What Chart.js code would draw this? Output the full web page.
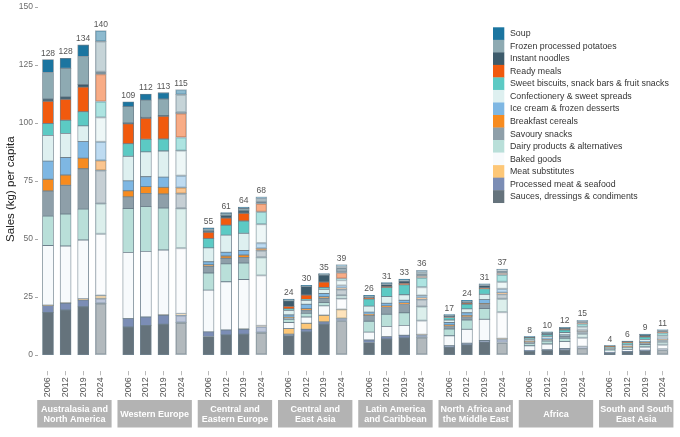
<!DOCTYPE html>
<html><head><meta charset="utf-8">
<script src="https://cdn.jsdelivr.net/npm/chart.js@4"></script>
<style>html,body{margin:0;padding:0;background:#fff}#wrap{width:680px;height:437px;position:relative}</style>
</head><body><div id="wrap"><canvas id="c"></canvas></div>
<script>
// ---------- DATA ----------
const regions = [["Australasia and","North America"],["Western Europe"],["Central and","Eastern Europe"],["Central and","East Asia"],["Latin America","and Caribbean"],["North Africa and","the Middle East"],["Africa"],["South and South","East Asia"]];
const years = ["2006","2012","2019","2024"];
const totals = [128,128,134,140, 109,112,113,115, 55,61,64,68, 24,30,35,39, 26,31,33,36, 17,24,31,37, 8,10,12,15, 4,6,9,11];

// stacked from bottom to top
const categories = ["Sauces, dressings & condiments","Processed meat & seafood","Meat substitutes","Baked goods","Dairy products & alternatives","Savoury snacks","Breakfast cereals","Ice cream & frozen desserts","Confectionery & sweet spreads","Sweet biscuits, snack bars & fruit snacks","Ready meals","Instant noodles","Frozen processed potatoes","Soup"];

const sauces    = [18.4,19.4,20.8,22.3, 12.1,12.8,13.3,14.0, 8.0,8.7,9.0,9.7, 8.3,10.0,13.3,14.7, 5.4,6.9,7.4,7.6, 3.4,4.4,5.6,5.4, 1.6,2.0,2.3,3.0, 1.0,1.3,1.8,2.2];
const procMeat  = [2.9,2.9,2.9,2.0, 3.6,3.6,3.9,3.1, 2.0,2.1,2.1,2.6, 0.7,1.1,1.0,1.1, 1.1,1.1,1.1,1.1, 0.6,0.7,0.7,1.4, 0.4,0.4,0.5,0.6, 0.2,0.2,0.3,0.4];
const meatSub   = [0.2,0.2,0.5,1.4, 0,0,0.1,0.7, 0,0,0.1,0.3, 2.4,2.6,2.9,3.9, 0,0,0,0.1, 0,0,0,0.3, 0,0,0,0, 0,0,0,0];
const baked     = [25.7,24.5,25.4,26.5, 28.5,28.3,28.0,28.3, 18.0,20.8,21.4,21.7, 2.6,2.7,4.0,4.6, 3.4,4.3,4.3,6.0, 4.3,6.0,9.1,11.4, 2.0,2.4,3.0,3.8, 0.6,0.9,1.4,1.8];
const dairy     = [12.7,13.8,13.3,13.1, 19.0,19.3,18.1,17.1, 7.4,7.7,7.1,7.8, 1.4,1.6,1.4,1.4, 4.7,5.3,5.4,6.1, 2.9,4.0,4.7,5.7, 1.0,1.2,1.4,1.7, 0.5,0.7,1.0,1.2];
const savoury   = [10.8,12.4,17.4,14.3, 5.0,5.7,6.0,6.4, 2.9,2.4,2.4,2.9, 0.7,1.4,1.9,2.6, 2.4,2.9,3.6,3.1, 1.4,1.4,1.7,2.1, 0.6,0.7,0.9,1.1, 0.3,0.5,0.8,1.0];
const breakfast = [5.1,4.4,4.6,4.3, 2.6,2.9,2.9,2.6, 0.6,1.0,1.0,1.0, 0.2,0.6,0.6,0.6, 0.6,0.7,0.7,0.7, 0.4,0.6,0.4,0.6, 0.2,0.2,0.2,0.3, 0.1,0.1,0.2,0.2];
const iceCream  = [7.8,7.6,7.1,8.0, 4.3,4.3,4.4,5.1, 1.3,1.6,2.0,2.3, 1.0,1.9,1.4,1.1, 0.9,1.1,1.1,1.0, 1.0,1.1,1.7,1.6, 0.3,0.4,0.4,0.5, 0.2,0.3,0.4,0.5];
const confect   = [11.1,10.3,6.8,10.6, 10.6,10.7,11.3,10.8, 6.0,7.4,7.4,8.1, 1.9,1.7,1.9,2.3, 2.6,2.9,2.4,3.6, 1.1,1.7,2.3,3.0, 0.6,0.8,1.0,1.2, 0.3,0.5,0.8,1.0];
const sweet     = [5.1,5.7,6.1,6.8, 5.4,5.4,5.1,5.7, 4.0,4.3,5.3,5.3, 0.7,0.4,0.7,0.6, 3.1,3.9,4.3,4.0, 1.1,2.0,2.4,3.1, 0.6,0.8,1.1,1.3, 0.4,0.8,1.1,1.3];
const ready     = [9.6,9.1,10.6,11.8, 8.6,9.1,9.8,10.4, 2.7,3.1,3.3,3.6, 1.1,1.9,2.4,2.6, 0.3,0.4,0.6,0.7, 0.2,0.3,0.4,0.7, 0.1,0.1,0.1,0.2, 0.05,0.1,0.1,0.2];
const noodles   = [1.0,1.0,1.1,1.0, 0.4,0.4,0.4,0.4, 0.6,1.0,1.1,1.0, 2.4,3.6,2.9,2.1, 0.6,0.9,0.9,0.9, 0.5,0.7,1.0,0.9, 0.4,0.6,0.7,0.8, 0.3,0.5,0.8,0.9];
const frozen    = [11.4,12.3,12.1,13.1, 7.0,7.4,7.1,7.7, 0.9,0.9,1.0,1.1, 0.4,0.3,0.4,0.7, 0.4,0.4,0.6,0.9, 0.3,0.4,0.4,0.6, 0.1,0.2,0.2,0.3, 0.05,0.05,0.1,0.1];
const soup      = [5.6,4.3,5.0,4.7, 2.1,2.6,2.7,2.1, 0.4,0.4,0.6,0.8, 0.3,0.3,0.3,0.7, 0.3,0.4,0.4,0.7, 0.2,0.3,0.3,0.3, 0.1,0.2,0.2,0.2, 0.05,0.1,0.2,0.2];

const seriesValues = [sauces,procMeat,meatSub,baked,dairy,savoury,breakfast,iceCream,confect,sweet,ready,noodles,frozen,soup];
const yTicks = [0,25,50,75,100,125,150];

// ---------- STYLE ----------
const colors = ["#65737c","#7b8db5","#fdc777","#f7fafc","#b9dfd9","#8e9fa9","#f78b1f","#7eb7e3","#def0f0","#5ccac4","#f15a0e","#3d5b6b","#8eaab2","#1b75a0"];
const GROUP_STEP = 4.56;
function lighten(hex, a){const n=parseInt(hex.slice(1),16);return `rgba(${n>>16&255},${n>>8&255},${n&255},${a})`;}

Chart.defaults.font.family = '"Liberation Sans", Arial, sans-serif';
const xPos = [];
regions.forEach((r,g)=>years.forEach((y,i)=>xPos.push(g*GROUP_STEP+i)));

const datasets = categories.map((name,k)=>({
  label: name,
  stack: 'all',
  data: seriesValues[k].map((v,i)=>({x:xPos[i], y:v})),
  backgroundColor: xPos.map((_,i)=> (i%4===3) ? lighten(colors[k],0.5) : colors[k]),
  borderColor: xPos.map((_,i)=> (i%4===3) ? 'rgba(110,128,140,0.6)' : '#6e808c'),
  borderWidth: 0.8,
  borderSkipped: false,
  barThickness: 11
}));

const extras = {
  id: 'extras',
  afterDatasetsDraw(chart){
    const ctx = chart.ctx, xs = chart.scales.x, ys = chart.scales.y;
    ctx.save();
    // totals
    ctx.font = '8.5px "Liberation Sans", Arial, sans-serif';
    ctx.fillStyle = '#555';
    ctx.textAlign = 'center'; ctx.textBaseline = 'alphabetic';
    xPos.forEach((xv,i)=>{
      let s = 0; seriesValues.forEach(a=>s+=a[i]);
      ctx.fillText(String(totals[i]), xs.getPixelForValue(xv), ys.getPixelForValue(s)-4);
    });
    // group boxes
    regions.forEach((lines,g)=>{
      const cx = xs.getPixelForValue(g*GROUP_STEP+1.5);
      ctx.fillStyle = '#b3b3b3';
      ctx.fillRect(cx-37.2, 400, 74.4, 27.5);
      ctx.fillStyle = '#ffffff';
      ctx.font = 'bold 9px "Liberation Sans", Arial, sans-serif';
      ctx.textBaseline = 'middle';
      const mid = 414.3;
      lines.forEach((t,j)=>{
        const y = lines.length===1 ? mid : mid + (j-0.5)*10;
        ctx.fillText(t, cx, y);
      });
    });
    // legend (top item = last stacked)
    const lx = 493, ly = 27.3, h = 12.53;
    ctx.textAlign = 'left';
    ctx.font = '8.8px "Liberation Sans", Arial, sans-serif';
    for (let k = categories.length-1, r = 0; k >= 0; k--, r++) {
      ctx.fillStyle = colors[k];
      ctx.fillRect(lx, ly + r*h, 11.3, h+0.3);
      ctx.fillStyle = '#333';
      ctx.fillText(categories[k], 510, ly + r*h + h/2 + 0.3);
    }
    ctx.restore();
  }
};

new Chart(document.getElementById('c'), {
  type: 'bar',
  data: { datasets },
  options: {
    responsive: true, maintainAspectRatio: false, animation: false,
    layout: { padding: { top: 6, right: 4, bottom: 0, left: 0 } },
    plugins: { legend: { display: false }, tooltip: { enabled: false } },
    scales: {
      x: {
        type: 'linear', min: -0.568, max: 35.68, offset: false,
        afterBuildTicks: s => { s.ticks = xPos.map(v=>({value:v})); },
        afterFit: s => { s.height = 65.7; s.paddingLeft = 0; s.paddingRight = 0; },
        ticks: { autoSkip: false, minRotation: 90, maxRotation: 90, padding: 2, color: '#555', font: { size: 9 },
                 callback: (v, idx) => years[idx % 4] },
        grid: { display: true, offset: false, drawOnChartArea: false, drawTicks: true, tickLength: 4, color: '#bbb' },
        border: { display: false }
      },
      y: {
        min: -7, max: 150,
        afterBuildTicks: s => { s.ticks = yTicks.map(v=>({value:v})); },
        afterFit: s => { s.width = 38; },
        ticks: { padding: 2, color: '#6b6b6b', font: { size: 8.5 } },
        grid: { display: true, drawOnChartArea: false, drawTicks: true, tickLength: 3, color: '#aaa' },
        border: { display: false },
        title: { display: true, text: 'Sales (kg) per capita', color: '#222', font: { size: 11.5 }, padding: { top: 4, bottom: 0 } }
      }
    }
  },
  plugins: [extras]
});
</script></body></html>
